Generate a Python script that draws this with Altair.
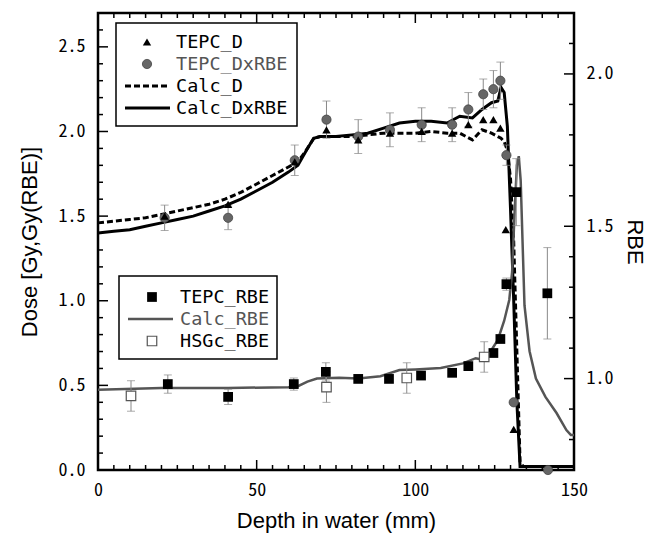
import altair as alt
import pandas as pd

# ---------------- data ----------------
calc_x = [0, 5, 10, 15, 20, 25, 30, 35, 40, 45, 50, 55, 60, 63, 66, 68, 70, 75, 80, 85,
          90, 95, 100, 105, 110, 114, 118, 121, 124, 126, 127, 128, 129, 130, 131, 132, 133, 134, 140, 150]
calc_d = [1.46, 1.47, 1.48, 1.49, 1.51, 1.53, 1.55, 1.57, 1.60, 1.64, 1.69, 1.74, 1.79, 1.82, 1.90, 1.96, 1.97, 1.97, 1.97, 1.98,
          1.99, 1.99, 1.99, 2.00, 1.99, 1.99, 1.95, 2.01, 1.99, 1.97, 1.96, 1.94, 1.89, 1.72, 1.35, 0.70, 0.05, 0.02, 0.02, 0.02]
calc_dxrbe = [1.40, 1.41, 1.42, 1.44, 1.46, 1.48, 1.50, 1.53, 1.56, 1.60, 1.65, 1.70, 1.76, 1.80, 1.90, 1.96, 1.97, 1.97, 1.98, 1.99,
              2.02, 2.05, 2.06, 2.06, 2.05, 2.09, 2.08, 2.13, 2.17, 2.18, 2.26, 2.23, 2.03, 1.54, 1.00, 0.40, 0.02, 0.02, 0.02, 0.02]

calc_rbe_x = [0, 20, 41, 60, 63, 66, 69, 76, 82, 89, 95, 100, 108, 115, 119, 122, 124, 126, 128, 129.6,
              130.5, 131.3, 132, 132.6, 133.2, 134.4, 136, 138, 141, 144.5, 147.6, 149, 150]
calc_rbe = [0.963, 0.969, 0.969, 0.972, 0.975, 0.99, 1.0, 1.003, 1.0, 1.008, 1.028, 1.03, 1.035, 1.05, 1.067, 1.061, 1.094, 1.127, 1.19, 1.258,
            1.35, 1.55, 1.70, 1.73, 1.65, 1.24, 1.09, 1.0, 0.94, 0.887, 0.831, 0.815, 0.815]

tepc_d_x = [21, 41, 62, 72, 82, 92, 102, 111.6, 116.7, 121.4, 124.6, 126.8, 128.5, 131]
tepc_d = [1.50, 1.57, 1.82, 2.01, 1.95, 1.99, 2.00, 1.99, 2.04, 2.07, 2.07, 2.02, 1.42, 0.24]

tepc_dx_x = [21, 41, 62, 72, 82, 92, 102, 111.6, 116.7, 121.4, 124.6, 126.8, 128.7, 131, 141.8]
tepc_dx = [1.49, 1.49, 1.83, 2.07, 1.97, 2.01, 2.04, 2.04, 2.13, 2.22, 2.25, 2.30, 1.86, 0.40, 0.0]
tepc_dx_err = [0.075, 0.07, 0.09, 0.11, 0.10, 0.10, 0.10, 0.10, 0.10, 0.09, 0.11, 0.11, 0.06, 0, 0]

tepc_rbe_x = [22, 41, 61.7, 71.8, 82, 91.7, 101.8, 111.6, 116.7, 124.6, 126.8, 128.7, 131.8, 141.6]
tepc_rbe = [0.982, 0.94, 0.982, 1.022, 0.999, 0.999, 1.01, 1.019, 1.041, 1.084, 1.13, 1.31, 1.612, 1.28]
tepc_rbe_err = [0.03, 0.025, 0.02, 0.03, 0, 0, 0, 0, 0, 0, 0, 0.02, 0.11, 0.15]

hsgc_x = [10.4, 72, 97.3, 121.7]
hsgc_rbe = [0.943, 0.972, 1.002, 1.071]
hsgc_err = [0.05, 0.05, 0.05, 0.05]

x_major = [0, 50, 100, 150]
x_minor = [v for v in range(0, 151, 5) if v % 50 != 0]
dose_major = [0.0, 0.5, 1.0, 1.5, 2.0, 2.5]
dose_minor = [round(i * 0.1, 1) for i in range(28) if i % 5 != 0]
rbe_major = [1.0, 1.5, 2.0]
rbe_minor = [round(0.7 + i * 0.1, 1) for i in range(16) if (7 + i) % 5 != 0]

# ---------------- layout ----------------
W, H = 476, 457
MONO = "Noto Sans Mono CJK JP, Liberation Mono, monospace"
LMONO = "DejaVu Sans Mono, Liberation Mono, monospace"
SANS = "Liberation Sans, Arial, sans-serif"
GRAY = "#666666"
EGRAY = "#888888"

xscale = alt.Scale(domain=[0, 150], nice=False, zero=False)
dscale = alt.Scale(domain=[0, 2.7], nice=False, zero=False)
rscale = alt.Scale(domain=[0.7, 2.2], nice=False, zero=False)

xaxis = alt.Axis(values=x_major, format="d", ticks=False, tickSize=0, domain=False, grid=False,
                 labelFlush=False, labelOverlap=False,
                 labelFont=MONO, labelFontSize=18, labelColor="black", labelPadding=11,
                 title="Depth in water (mm)", titleFont=SANS, titleFontSize=22,
                 titleFontWeight="normal", titleColor="black", titlePadding=11)
laxis = alt.Axis(orient="left", values=dose_major, format=".1f", ticks=False, tickSize=0, domain=False,
                 grid=False, labelFlush=False, labelOverlap=False,
                 labelFont=MONO, labelFontSize=18, labelColor="black", labelPadding=13,
                 title="Dose [Gy,Gy(RBE)]", titleFont=SANS, titleFontSize=22, titleFontWeight="normal",
                 titleColor="black", titlePadding=17)
raxis = alt.Axis(orient="right", values=rbe_major, format=".1f", ticks=False, tickSize=0, domain=False,
                 grid=False, labelFlush=False, labelOverlap=False,
                 labelFont=MONO, labelFontSize=18, labelColor="black", labelPadding=12,
                 title="RBE", titleFont=SANS, titleFontSize=22, titleFontWeight="normal",
                 titleColor="black", titleAngle=90, titlePadding=10)


def X(field="x"):
    return alt.X(f"{field}:Q", scale=xscale, axis=xaxis)


def YD(field="y"):
    return alt.Y(f"{field}:Q", scale=dscale, axis=laxis)


def YR(field="y"):
    return alt.Y(f"{field}:Q", scale=rscale, axis=raxis)


# ---------------- dose layers ----------------
df_cd = pd.DataFrame({"x": calc_x, "y": calc_d})
df_cdx = pd.DataFrame({"x": calc_x, "y": calc_dxrbe})
df_td = pd.DataFrame({"x": tepc_d_x, "y": tepc_d})
df_tdx = pd.DataFrame({"x": tepc_dx_x, "y": tepc_dx, "e": tepc_dx_err})
df_tdx["lo"] = df_tdx["y"] - df_tdx["e"]
df_tdx["hi"] = df_tdx["y"] + df_tdx["e"]
df_tdx_e = df_tdx[df_tdx["e"] > 0]

line_cd = alt.Chart(df_cd).mark_line(color="black", strokeWidth=3, strokeDash=[6, 3]).encode(x=X(), y=YD())
line_cdx = alt.Chart(df_cdx).mark_line(color="black", strokeWidth=3).encode(x=X(), y=YD())
err_dx = alt.Chart(df_tdx_e).mark_rule(color=EGRAY, strokeWidth=1).encode(x=X(), y=YD("lo"), y2="hi:Q")
cap_lo_dx = alt.Chart(df_tdx_e).mark_tick(color=EGRAY, thickness=1, size=8, orient="horizontal").encode(x=X(), y=YD("lo"))
cap_hi_dx = alt.Chart(df_tdx_e).mark_tick(color=EGRAY, thickness=1, size=8, orient="horizontal").encode(x=X(), y=YD("hi"))
pts_dx = alt.Chart(df_tdx).mark_point(shape="circle", filled=True, fill=GRAY, stroke="#444444",
                                      strokeWidth=0.8, opacity=1, size=85).encode(x=X(), y=YD())
pts_d = alt.Chart(df_td).mark_point(shape="triangle-up", filled=True, color="black", opacity=1,
                                    size=70).encode(x=X(), y=YD())


# axis ticks (inward)
def hticks(vals, scale_fn, left=True, length=5):
    df = pd.DataFrame({"y": vals})
    if left:
        return alt.Chart(df).mark_rule(color="black", strokeWidth=1.5).encode(
            y=scale_fn(), x=alt.value(0), x2=alt.value(length))
    return alt.Chart(df).mark_rule(color="black", strokeWidth=1.5).encode(
        y=scale_fn(), x=alt.value(W), x2=alt.value(W - length))


def vticks(vals, bottom=True, length=5):
    df = pd.DataFrame({"x": vals})
    if bottom:
        return alt.Chart(df).mark_rule(color="black", strokeWidth=1.5).encode(
            x=X(), y=alt.value(H), y2=alt.value(H - length))
    return alt.Chart(df).mark_rule(color="black", strokeWidth=1.5).encode(
        x=X(), y=alt.value(0), y2=alt.value(length))


left_group = alt.layer(
    line_cd, line_cdx, err_dx, cap_lo_dx, cap_hi_dx, pts_dx, pts_d,
    hticks(dose_minor, YD, True, 5), hticks(dose_major, YD, True, 10),
    vticks(x_minor, True, 5), vticks(x_major, True, 10),
    vticks(x_minor, False, 5), vticks(x_major, False, 10),
)

# ---------------- RBE layers ----------------
df_cr = pd.DataFrame({"x": calc_rbe_x, "y": calc_rbe})
df_tr = pd.DataFrame({"x": tepc_rbe_x, "y": tepc_rbe, "e": tepc_rbe_err})
df_tr["lo"] = df_tr["y"] - df_tr["e"]
df_tr["hi"] = df_tr["y"] + df_tr["e"]
df_tr_e = df_tr[df_tr["e"] > 0]
df_hs = pd.DataFrame({"x": hsgc_x, "y": hsgc_rbe, "e": hsgc_err})
df_hs["lo"] = df_hs["y"] - df_hs["e"]
df_hs["hi"] = df_hs["y"] + df_hs["e"]

line_cr = alt.Chart(df_cr).mark_line(color="#555555", strokeWidth=2.5).encode(x=X(), y=YR())


def errs(df):
    r = alt.Chart(df).mark_rule(color=EGRAY, strokeWidth=1).encode(x=X(), y=YR("lo"), y2="hi:Q")
    a = alt.Chart(df).mark_tick(color=EGRAY, thickness=1, size=8, orient="horizontal").encode(x=X(), y=YR("lo"))
    b = alt.Chart(df).mark_tick(color=EGRAY, thickness=1, size=8, orient="horizontal").encode(x=X(), y=YR("hi"))
    return [r, a, b]


pts_tr = alt.Chart(df_tr).mark_point(shape="square", filled=True, color="black", opacity=1,
                                     size=95).encode(x=X(), y=YR())
pts_hs = alt.Chart(df_hs).mark_point(shape="square", filled=True, fill="white", stroke="#555555",
                                     strokeWidth=1.2, opacity=1, size=90).encode(x=X(), y=YR())

# ---------------- legends ----------------
LEG_FS = 18.5


def ltext(txt, x, y, color="black"):
    return alt.Chart(pd.DataFrame({"a": [0]})).mark_text(
        text=txt, font=LMONO, fontSize=LEG_FS, color=color, align="left", baseline="middle"
    ).encode(x=alt.value(x), y=alt.value(y))


def lbox(x1, y1, x2, y2):
    return alt.Chart(pd.DataFrame({"a": [0]})).mark_rect(
        fill="white", stroke="black", strokeWidth=1.5
    ).encode(x=alt.value(x1), x2=alt.value(x2), y=alt.value(y1), y2=alt.value(y2))


def lpoint(x, y, **kw):
    return alt.Chart(pd.DataFrame({"a": [0]})).mark_point(opacity=1, **kw).encode(
        x=alt.value(x), y=alt.value(y))


def lline(x1, x2, y, **kw):
    return alt.Chart(pd.DataFrame({"a": [0]})).mark_rule(**kw).encode(
        x=alt.value(x1), x2=alt.value(x2), y=alt.value(y))


legend1 = [
    lbox(18, 10, 199, 113),
    lpoint(49, 29, shape="triangle-up", filled=True, color="black", size=70),
    ltext("TEPC_D", 78, 29),
    lpoint(49, 51, shape="circle", filled=True, fill=GRAY, stroke="#444444", strokeWidth=0.8, size=85),
    ltext("TEPC_DxRBE", 78, 51, "#555555"),
    lline(27, 72, 73, color="black", strokeWidth=3, strokeDash=[6, 3]),
    ltext("Calc_D", 78, 73),
    lline(27, 72, 95, color="black", strokeWidth=3),
    ltext("Calc_DxRBE", 78, 95),
]
legend2 = [
    lbox(21, 263, 179, 346),
    lpoint(54, 284, shape="square", filled=True, color="black", size=95),
    ltext("TEPC_RBE", 82, 284),
    lline(30, 75, 306, color="#555555", strokeWidth=2.5),
    ltext("Calc_RBE", 82, 306, "#555555"),
    lpoint(54, 328, shape="square", filled=True, fill="white", stroke="#555555", strokeWidth=1.2, size=90),
    ltext("HSGc_RBE", 82, 328),
]

right_group = alt.layer(
    line_cr, *errs(df_tr_e), *errs(df_hs), pts_tr, pts_hs,
    hticks(rbe_minor, YR, False, 5), hticks(rbe_major, YR, False, 10),
    *legend1, *legend2,
)

chart = alt.layer(left_group, right_group).resolve_scale(y="independent").properties(
    width=W, height=H,
    autosize=alt.AutoSizeParams(type="none"),
    padding={"left": 98, "top": 13, "right": 75, "bottom": 63},
    background="white",
).configure_view(stroke="black", strokeWidth=2.5)

chart.save("out.html", embed_options={"renderer": "svg", "actions": False})
